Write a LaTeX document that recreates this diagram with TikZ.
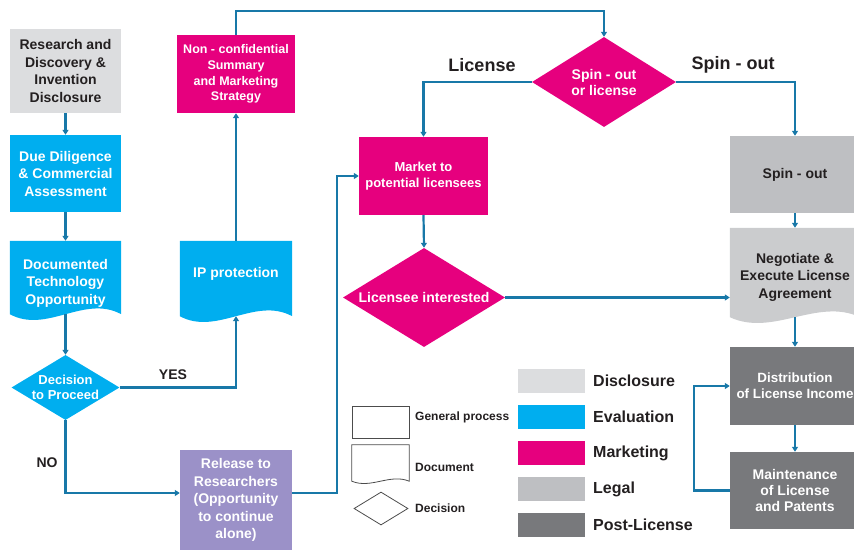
\documentclass[tikz,border=0pt]{standalone}
\usepackage{fontspec}
\setmainfont{Liberation Sans}
\usetikzlibrary{arrows.meta,shapes.geometric,backgrounds,calc}

\definecolor{disclosure}{RGB}{220,221,223}
\definecolor{evaluation}{RGB}{0,174,239}
\definecolor{marketing}{RGB}{230,0,126}
\definecolor{legal}{RGB}{190,191,194}
\definecolor{postlicense}{RGB}{120,121,124}
\definecolor{release}{RGB}{155,145,200}
\definecolor{flowline}{RGB}{24,120,168}
\definecolor{darktext}{RGB}{35,31,32}

\def\boxfont{\bfseries\fontsize{14}{17.5}\selectfont}
\def\tightfont{\bfseries\fontsize{14}{16}\selectfont}
\def\incomefont{\bfseries\fontsize{13.4}{16}\selectfont}
\def\ncfont{\bfseries\fontsize{12.5}{15.6}\selectfont}
\def\marketfont{\bfseries\fontsize{13}{16}\selectfont}
\def\decfont{\bfseries\fontsize{13}{15}\selectfont}
\def\keyfont{\bfseries\fontsize{16}{19}\selectfont}
\def\bigfont{\bfseries\fontsize{18}{21}\selectfont}
\def\smallkeyfont{\bfseries\fontsize{12}{14}\selectfont}

% document shape: wavy bottom drawn behind a named node
\def\docwave#1#2#3#4#5{%
  \path[#2] (#1.north west) -- (#1.north east) -- ([yshift=#3]#1.south east)
    .. controls +(-#4,-#5) and +(#4,#5) .. ([yshift=#3]#1.south west) -- cycle;
  \coordinate (#1-wave) at ([yshift=#3]#1.south);}

\tikzset{
  >={Triangle[length=5pt,width=6pt]},
  box/.style={rectangle, inner sep=0pt, align=center, font=\boxfont},
  whitebox/.style={box, text=white},
  darkbox/.style={box, text=darktext},
  decision/.style={diamond, inner sep=-3pt, align=center, text=white, fill=marketing, font=\tightfont},
  flow/.style={draw=flowline, line width=2.2pt, ->},
  lbl/.style={text=darktext, font=\boxfont},
  biglbl/.style={text=darktext, font=\bigfont},
  swatch/.style={rectangle, minimum width=67pt, minimum height=24pt, inner sep=0pt},
  keytext/.style={anchor=west, inner sep=0pt, text=darktext, font=\keyfont},
  smallkey/.style={anchor=west, inner sep=0pt, text=darktext, font=\smallkeyfont},
  shapekey/.style={draw=black!70, line width=0.8pt, fill=white, inner sep=0pt},
}

\begin{document}
\begin{tikzpicture}[x=1pt,y=-1pt]
\useasboundingbox (0,0) rectangle (854,549);
\clip (0,0) rectangle (854,549);

% evaluation column
\node[darkbox, fill=disclosure, minimum width=111pt, minimum height=84pt] (research) at (65.5,71) {Research and\\Discovery \&\\Invention\\Disclosure};
\node[whitebox, fill=evaluation, minimum width=111pt, minimum height=77pt] (diligence) at (65.5,173.5) {Due Diligence\\\& Commercial\\Assessment};
\node[whitebox, minimum width=111pt, minimum height=84pt] (documented) at (65.5,283) {Documented\\Technology\\Opportunity};
\node[decision, fill=evaluation, aspect=1.66, minimum width=108pt, minimum height=65pt, font=\decfont] (proceed) at (65.5,387.5) {Decision\\to Proceed};

\node[whitebox, minimum width=112pt, minimum height=66pt] (protect) at (236,274) {IP protection};
\node[whitebox, fill=marketing, minimum width=118pt, minimum height=78pt, font=\ncfont] (summary) at (236,74) {Non - confidential\\Summary\\and Marketing\\Strategy};
\node[whitebox, fill=release, minimum width=112pt, minimum height=100pt] (researchers) at (236,500) {Release to\\Researchers\\(Opportunity\\to continue\\alone)};

% marketing
\node[decision, aspect=1.6, minimum width=144pt, minimum height=90pt] (spinlic) at (604,82) {Spin - out\\or license};
\node[whitebox, fill=marketing, minimum width=129pt, minimum height=78pt, font=\marketfont] (market) at (423.5,176) {Market to\\potential licensees};
\node[decision, aspect=1.64, minimum width=162pt, minimum height=99pt, font=\boxfont] (interest) at (424,297.5) {Licensee interested};

% legal and post-license
\node[darkbox, fill=legal, minimum width=130pt, minimum height=77pt] (spinout) at (795,174.5) {Spin - out};
\node[darkbox, minimum width=130pt, minimum height=98pt] (negotiate) at (795,277) {Negotiate \&\\Execute License\\Agreement};
\node[whitebox, fill=postlicense, minimum width=130pt, minimum height=78pt, font=\incomefont] (distribution) at (795,386) {Distribution\\of License Income};
\node[whitebox, fill=postlicense, minimum width=130pt, minimum height=77pt, font=\tightfont] (maintenance) at (795,490.5) {Maintenance\\of License\\and Patents};

% shape key
\node[shapekey, rectangle, minimum width=57pt, minimum height=32pt] (keyprocess) at (380.5,422) {};
\node[rectangle, inner sep=0pt, minimum width=57pt, minimum height=36pt] (keydoc) at (380.5,463) {};
\node[shapekey, diamond, aspect=1.64, minimum width=54pt, minimum height=33pt] (keydecision) at (381,508.5) {};
\node[smallkey] (keyprocesstext) at (415,417) {General process};
\node[smallkey] (keydoctext) at (415,467) {Document};
\node[smallkey] (keydecisiontext) at (415,508) {Decision};

\begin{scope}[on background layer]
  \docwave{documented}{fill=evaluation}{11}{37}{20}
  \docwave{protect}{fill=evaluation}{-9}{37}{20}
  \docwave{negotiate}{fill=legal!80!white}{9}{43}{20}
  \docwave{keydoc}{draw=black!70, line width=0.8pt}{0}{19}{8}
\end{scope}

% colour key
\foreach \c/\t [count=\i] in {disclosure/Disclosure, evaluation/Evaluation, marketing/Marketing, legal/Legal, postlicense/Post-License} {
  \node[swatch, fill=\c] (swatch\i) at (551.5,345+36*\i) {};
  \node[keytext] (key\i) at (593,345+36*\i) {\t};
}

% connectors
\draw[flow] (research.south) -- (diligence.north);
\draw[flow] (diligence.south) -- (documented.north);
\draw[flow] (documented-wave) -- (proceed.north);
\draw[flow] (proceed.east) -| (protect-wave);
\draw[flow] (proceed.south) |- ([yshift=7pt]researchers.west);
\draw[flow] (protect.north) -- (summary.south);
\draw[flow] (summary.north) -- ++(0,-24) -| (spinlic.north);
\draw[flow] (spinlic.west) -| (market.north);
\draw[flow] (spinlic.east) -| (spinout.north);
\draw[flow] ([yshift=7pt]researchers.east) -- ++(45,0) |- (market.west);
\draw[flow] (market.south) -- (interest.north);
\draw[flow] (interest.east) -- (interest.east -| negotiate.west);
\draw[flow] (spinout.south) -- (negotiate.north);
\draw[flow] (negotiate-wave) -- (distribution.north);
\draw[flow] (distribution.south) -- (maintenance.north);
\draw[flow] (maintenance.west) -- ++(-36,0) |- (distribution.west);

\node[lbl] (yes) at (173,375) {YES};
\node[lbl] (no) at (47,463) {NO};
\node[biglbl] (licenselbl) at (482,65) {License};
\node[biglbl] (spinoutlbl) at (733,65) {Spin - out};

\end{tikzpicture}
\end{document}
